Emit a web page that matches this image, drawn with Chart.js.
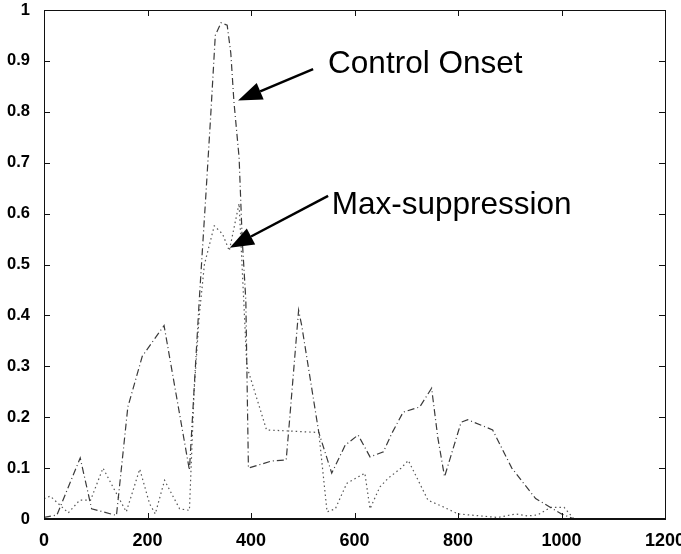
<!DOCTYPE html>
<html>
<head>
<meta charset="utf-8">
<script src="https://cdn.jsdelivr.net/npm/chart.js@4/dist/chart.umd.min.js"></script>
<style>
  html, body { margin: 0; padding: 0; background: #fff; }
  #wrap { width: 681px; height: 554px; }
</style>
</head>
<body>
<div id="wrap"><canvas id="chart" width="681" height="554"></canvas></div>
<script>
// Curva "Control Onset" (traço-ponto)
const onsetX = [0, 25, 70, 92, 140, 162, 190, 232, 281, 300, 313, 322, 331, 342, 354, 361, 367, 377, 383, 390, 395, 440, 468, 475, 492, 498, 531, 556, 582, 607, 630, 656, 672, 694, 726, 749, 761, 774, 806, 819, 867, 904, 950, 1000, 1024];
const onsetY = [0.003, 0.008, 0.12, 0.02, 0.007, 0.22, 0.32, 0.38, 0.096, 0.43, 0.64, 0.79, 0.95, 0.975, 0.97, 0.915, 0.82, 0.71, 0.55, 0.43, 0.10, 0.114, 0.116, 0.2, 0.41, 0.38, 0.17, 0.09, 0.145, 0.165, 0.122, 0.132, 0.168, 0.21, 0.22, 0.257, 0.16, 0.083, 0.19, 0.195, 0.175, 0.1, 0.04, 0.01, 0];

// Curva "Max-suppression" (pontilhada)
const maxSupX = [0, 12, 47, 69, 90, 114, 140, 159, 185, 204, 215, 233, 262, 281, 290, 300, 310, 329, 345, 358, 377, 392, 430, 531, 547, 563, 585, 620, 630, 649, 665, 690, 704, 742, 771, 800, 877, 912, 935, 954, 979, 1005, 1024];
const maxSupY = [0.04, 0.045, 0.012, 0.037, 0.037, 0.1, 0.05, 0.014, 0.098, 0.03, 0.01, 0.076, 0.02, 0.017, 0.25, 0.4, 0.5, 0.576, 0.56, 0.527, 0.62, 0.3, 0.175, 0.17, 0.014, 0.02, 0.07, 0.09, 0.02, 0.063, 0.08, 0.1, 0.115, 0.037, 0.024, 0.01, 0.003, 0.01, 0.006, 0.008, 0.023, 0.023, 0];

const noteLabels = ['Control Onset', 'Max-suppression'];

const toPoints = (xs, ys) => xs.map((x, i) => ({ x, y: ys[i] }));

// Moldura estilo MATLAB com ticks para dentro nos quatro lados
const framePlugin = {
  id: 'frame',
  afterDatasetsDraw(chart) {
    const { ctx, chartArea: a, scales: { x, y } } = chart;
    ctx.save();
    ctx.strokeStyle = '#111';
    ctx.lineWidth = 1;
    ctx.strokeRect(a.left + 0.5, a.top + 0.5, a.right - a.left, a.bottom - a.top);
    ctx.lineWidth = 2;
    ctx.beginPath();
    ctx.moveTo(a.left, a.bottom);
    ctx.lineTo(a.right, a.bottom);
    ctx.stroke();
    ctx.lineWidth = 1;
    ctx.beginPath();
    x.ticks.forEach(t => {
      const px = Math.round(x.getPixelForValue(t.value)) + 0.5;
      ctx.moveTo(px, a.bottom); ctx.lineTo(px, a.bottom - 6);
      ctx.moveTo(px, a.top); ctx.lineTo(px, a.top + 6);
    });
    y.ticks.forEach(t => {
      const py = Math.round(y.getPixelForValue(t.value)) + 0.5;
      ctx.moveTo(a.left, py); ctx.lineTo(a.left + 6, py);
      ctx.moveTo(a.right, py); ctx.lineTo(a.right - 6, py);
    });
    ctx.stroke();
    ctx.restore();
  }
};

// Textos e setas de anotação (posições em unidades de dados)
const notesPlugin = {
  id: 'notes',
  afterDraw(chart, args, opts) {
    const { ctx, scales: { x, y } } = chart;
    ctx.save();
    ctx.fillStyle = '#000';
    ctx.strokeStyle = '#000';
    ctx.font = opts.font;
    ctx.textBaseline = 'alphabetic';
    opts.items.forEach((it, i) => {
      ctx.fillText(noteLabels[i], x.getPixelForValue(it.text[0]), y.getPixelForValue(it.text[1]));
      const x0 = x.getPixelForValue(it.from[0]), y0 = y.getPixelForValue(it.from[1]);
      const x1 = x.getPixelForValue(it.to[0]), y1 = y.getPixelForValue(it.to[1]);
      const ang = Math.atan2(y1 - y0, x1 - x0);
      const len = 24, half = 9;
      const bx = x1 - len * Math.cos(ang), by = y1 - len * Math.sin(ang);
      ctx.lineWidth = 2.5;
      ctx.beginPath();
      ctx.moveTo(x0, y0);
      ctx.lineTo(bx, by);
      ctx.stroke();
      ctx.beginPath();
      ctx.moveTo(x1, y1);
      ctx.lineTo(bx + half * Math.sin(ang), by - half * Math.cos(ang));
      ctx.lineTo(bx - half * Math.sin(ang), by + half * Math.cos(ang));
      ctx.closePath();
      ctx.fill();
    });
    ctx.restore();
  }
};

const tickFont = { family: '"Liberation Sans", Arial, sans-serif', weight: 'bold' };

new Chart(document.getElementById('chart'), {
  type: 'line',
  data: {
    datasets: [
      {
        label: noteLabels[0],
        data: toPoints(onsetX, onsetY),
        borderColor: '#3a3a3a',
        borderWidth: 1.2,
        borderDash: [7, 3, 1, 3],
        pointRadius: 0,
        tension: 0,
        fill: false
      },
      {
        label: noteLabels[1],
        data: toPoints(maxSupX, maxSupY),
        borderColor: '#555',
        borderWidth: 1.2,
        borderDash: [1.5, 3],
        pointRadius: 0,
        tension: 0,
        fill: false
      }
    ]
  },
  options: {
    responsive: false,
    animation: false,
    layout: { padding: { top: 10, right: 16, left: 0, bottom: 0 } },
    plugins: {
      legend: { display: false },
      tooltip: { enabled: false },
      notes: {
        font: '31.5px "Liberation Sans", Arial, sans-serif',
        items: [
          { text: [549, 0.876], from: [520, 0.884], to: [375, 0.822] },
          { text: [556, 0.6], from: [549, 0.635], to: [359, 0.533] }
        ]
      }
    },
    scales: {
      x: {
        type: 'linear',
        min: 0, max: 1200,
        ticks: {
          stepSize: 200, color: '#000', font: { ...tickFont, size: 18 }, padding: 3, maxRotation: 0,
          callback: v => String(v)
        },
        grid: { display: false },
        border: { display: false },
        afterFit: s => { s.height = 35; s.paddingLeft = 0; s.paddingRight = 0; }
      },
      y: {
        min: 0, max: 1,
        ticks: {
          stepSize: 0.1, color: '#000', font: { ...tickFont, size: 16.5 }, padding: 6,
          callback: v => String(Math.round(v * 10) / 10)
        },
        grid: { display: false },
        border: { display: false },
        afterFit: s => { s.width = 44; s.paddingTop = 0; s.paddingBottom = 0; }
      }
    }
  },
  plugins: [framePlugin, notesPlugin]
});
</script>
</body>
</html>
